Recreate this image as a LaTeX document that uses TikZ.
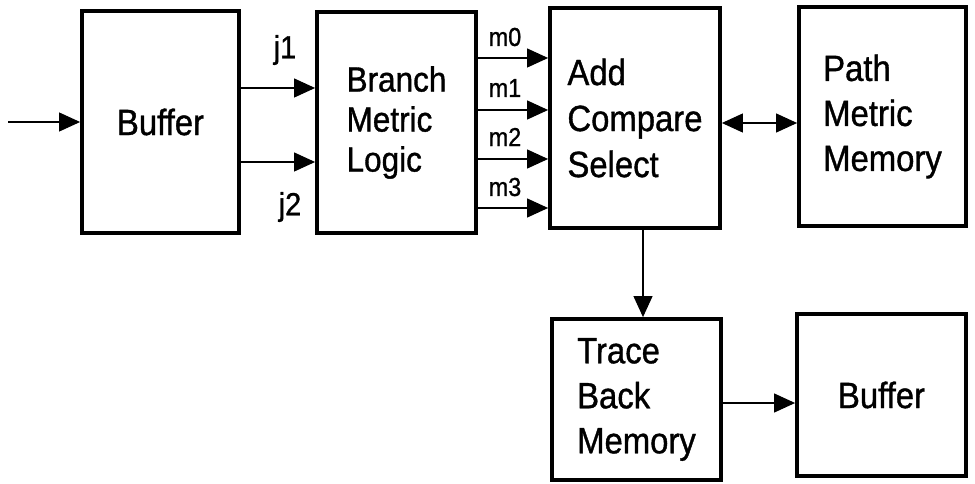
\documentclass[tikz,border=0pt]{standalone}
\usepackage{fontspec}
\setmainfont{Liberation Sans}[FakeBold=1,FakeStretch=0.9]
\usetikzlibrary{arrows.meta}
\begin{document}
\begin{tikzpicture}[x=1pt,y=-1pt,
  blk/.style={draw,line width=3.8pt,inner sep=0pt,align=left,
    font=\fontsize{36.5}{46}\selectfont},
  tip/.style={Triangle[length=21pt,width=19pt]},
  arr/.style={line width=1.1pt,-{Triangle[length=21pt,width=19pt]}},
  dbl/.style={line width=1.1pt,{Triangle[length=21pt,width=19pt]}-{Triangle[length=21pt,width=19pt]}},
  sig/.style={font=\fontsize{32}{32}\selectfont,inner sep=0pt},
  met/.style={font=\fontsize{26}{26}\selectfont,inner sep=0pt}]
\useasboundingbox (0,0) rectangle (975,484);

% blocks
\node[blk,minimum width=157pt,minimum height=222pt] (buf1) at (160.5,122) {Buffer};
\node[blk,minimum width=159pt,minimum height=221pt,
  font=\fontsize{35}{40}\selectfont] (bml) at (396.5,122.5) {Branch\\Metric\\Logic};
\node[blk,minimum width=170pt,minimum height=220pt] (acs) at (635,118) {Add\\Compare\\Select};
\node[blk,minimum width=167pt,minimum height=219pt,
  font=\fontsize{36.5}{45}\selectfont] (pmm) at (882.5,116.5) {Path\\Metric\\Memory};
\node[blk,minimum width=169pt,minimum height=161pt,
  font=\fontsize{36.5}{45}\selectfont] (tbm) at (636.5,399.5) {Trace\\Back\\Memory};
\node[blk,minimum width=169pt,minimum height=162pt] (buf2) at (881.5,395) {Buffer};

% input
\coordinate (src) at (8,122);
\draw[arr] (src) -- (buf1);

% buffer to branch metric logic
\draw[arr] (buf1.east |- 0,88) -- (bml.west |- 0,88);
\draw[arr] (buf1.east |- 0,162) -- (bml.west |- 0,162);
\node[sig] (j1) at (285,50) {j1};
\node[sig] (j2) at (290,207) {j2};

% branch metrics
\foreach \y/\l [count=\i from 0] in {58/37,110/88,159/137,208/187}{
  \draw[arr] (bml.east |- 0,\y) -- (acs.west |- 0,\y);
  \node[met] (m\i) at (505,\l) {m\i};
}

% path metric memory access
\draw[dbl] (acs.east |- 0,123) -- (pmm.west |- 0,123);

% trace back
\draw[arr] ([xshift=8pt]acs.south) -- ([xshift=8pt]acs.south |- tbm.north);
\draw[arr] (tbm.east |- 0,403) -- (buf2.west |- 0,403);
\end{tikzpicture}
\end{document}
